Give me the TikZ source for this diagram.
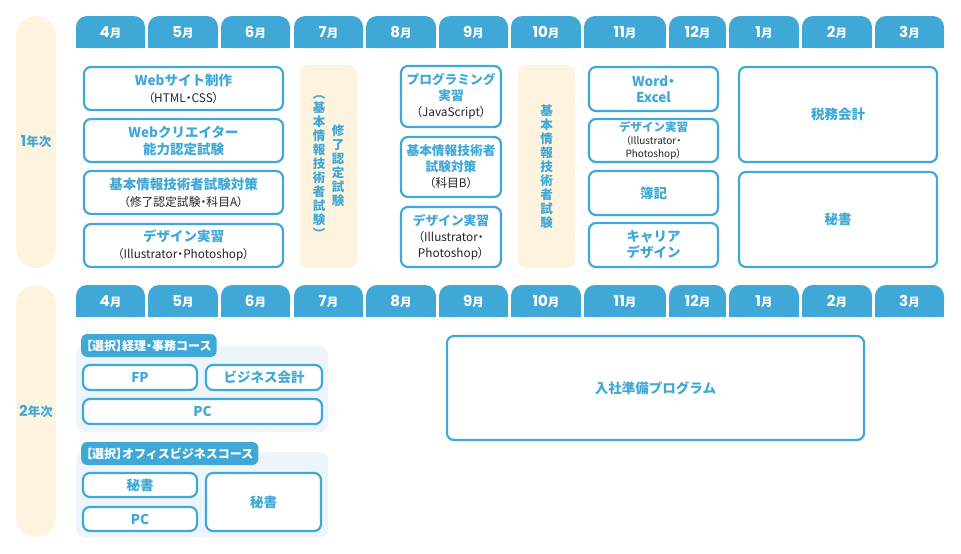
\documentclass[tikz,border=0pt]{standalone}
\usepackage{fontspec}
\setmainfont{Noto Sans CJK JP}
\newfontfamily\numfont{Poppins}
\usetikzlibrary{positioning}
\definecolor{tabblue}{RGB}{64,168,214}
\definecolor{cream}{RGB}{254,243,222}
\definecolor{paleblue}{RGB}{237,245,251}
\definecolor{ink}{RGB}{35,35,35}
\newcommand\hd[1]{{\color{tabblue}\bfseries #1}}
\newcommand\sm[1]{{\color{ink}\fontsize{11.8}{13}\selectfont\addfontfeatures{RawFeature=+palt}#1}}
\newcommand\pn[1]{{\addfontfeatures{RawFeature=+palt}#1}}

\begin{document}
\begin{tikzpicture}[x=1pt,y=-1pt,
  tabtxt/.style={text=white,font=\bfseries,inner sep=0pt},
  yearbar/.style={fill=cream,rounded corners=20pt,minimum width=40,minimum height=252,text=tabblue,font=\bfseries,inner sep=0pt},
  box/.style={draw=tabblue,line width=2.2pt,fill=white,rounded corners=7pt,align=center,inner sep=0pt,font={\fontsize{13.5}{17}\selectfont}},
  memo/.style={fill=cream,rounded corners=8pt,minimum width=57,minimum height=203,inner sep=0pt},
  tate/.style={align=center,inner sep=0pt,text=tabblue,font={\bfseries\fontsize{12.5}{14}\selectfont}},
  grp/.style={fill=paleblue,rounded corners=8pt,inner sep=0pt},
  tag/.style={fill=tabblue,rounded corners=6pt,text=white,font={\bfseries\fontsize{12}{13}\selectfont},minimum height=23,inner xsep=5pt,inner ysep=0pt}]
  \useasboundingbox[fill=white] (0,0) rectangle (961,554);

  \foreach \r/\ty in {1/16,2/285}
    \foreach \m/\a/\b in {4/76/145,5/148/218,6/221/290,7/294/363,8/366/436,9/439/508,10/511/581,11/584/666,12/669/726,1/729/799,2/802/872,3/875/944} {
      \fill[tabblue,rounded corners=11pt] (\a,\ty) rectangle (\b,\ty+32);
      \fill[tabblue] (\a,\ty+14) rectangle (\b,\ty+32);
      \node[tabtxt] (tab\r-\m) at ({(\a+\b)/2},\ty+16.5) {{\numfont\bfseries\fontsize{15}{15}\selectfont\m}{\fontsize{11.5}{12}\selectfont 月}};
    }

  \node[yearbar] (y1) at (36,142) {{\numfont\bfseries\fontsize{15}{15}\selectfont 1}{\fontsize{12.5}{13}\selectfont 年次}};
  \node[yearbar] (y2) at (36,411) {{\numfont\bfseries\fontsize{15}{15}\selectfont 2}{\fontsize{12.5}{13}\selectfont 年次}};

  \node[box,minimum width=199,minimum height=43] (web) at (183.5,88.5) {\hd{Webサイト制作}\\\sm{（HTML・CSS）}};
  \node[box,minimum width=199,minimum height=43] (wcr) at (183.5,140.5) {\hd{Webクリエイター}\\\hd{能力認定試験}};
  \node[box,minimum width=199,minimum height=43] (kihon) at (183.5,192.5) {\hd{基本情報技術者試験対策}\\\sm{（修了認定試験・科目A）}};
  \node[box,minimum width=199,minimum height=43] (des1) at (183.5,245.5) {\hd{デザイン実習}\\\sm{（Illustrator・Photoshop）}};

  \node[memo] (m7) at (328.5,166.5) {};
  \node[tate] (v7a) at (319,167) {︵\\基\\本\\情\\報\\技\\術\\者\\試\\験\\︶};
  \node[tate] (v7b) at (338,166) {修\\了\\認\\定\\試\\験};

  \node[box,minimum width=100,minimum height=61,font={\fontsize{12.7}{16}\selectfont}] (prog) at (451,96.5) {\hd{プログラミング}\\\hd{実習}\\\sm{（JavaScript）}};
  \node[box,minimum width=100,minimum height=60,font={\fontsize{12.7}{16}\selectfont}] (kihonb) at (451,167) {\hd{基本情報技術者}\\\hd{試験対策}\\\sm{（科目B）}};
  \node[box,minimum width=100,minimum height=60,font={\fontsize{12.7}{16}\selectfont}] (des2) at (451,237) {\hd{デザイン実習}\\\sm{（Illustrator・}\\\sm{Photoshop）}};

  \node[memo] (m10) at (546.5,166.5) {};
  \node[tate] (v10) at (546.5,167) {基\\本\\情\\報\\技\\術\\者\\試\\験};

  \node[box,minimum width=129,minimum height=44,font={\fontsize{13.5}{16}\selectfont\addfontfeatures{RawFeature=+palt}}] (word) at (653.5,89) {\hd{Word・}\\\hd{Excel}};
  \node[box,minimum width=129,minimum height=43,font={\fontsize{11.5}{13}\selectfont}] (des3) at (653.5,140.5) {\hd{デザイン実習}\\{\color{ink}\fontsize{10}{12}\selectfont\addfontfeatures{RawFeature=+palt}（Illustrator・}\\{\color{ink}\fontsize{10}{12}\selectfont\addfontfeatures{RawFeature=+palt}Photoshop）}};
  \node[box,minimum width=129,minimum height=44] (boki) at (653.5,193) {\hd{簿記}};
  \node[box,minimum width=129,minimum height=44,font={\fontsize{13.5}{16}\selectfont}] (career) at (653.5,245) {\hd{キャリア}\\\hd{デザイン}};

  \node[box,minimum width=198,minimum height=95] (zeimu) at (838,114.5) {\hd{税務会計}};
  \node[box,minimum width=198,minimum height=95] (hisho) at (838,219.5) {\hd{秘書}};

  \node[grp,minimum width=252,minimum height=86] (g1) at (202,389) {};
  \node[tag,anchor=west] (tag1) at (81,345.5) {\pn{【}選択\pn{】}経理\pn{・}事務コース};
  \node[box,minimum width=114,minimum height=25] (fp) at (140,377.5) {\hd{FP}};
  \node[box,minimum width=116,minimum height=25] (bizk) at (264,377.5) {\hd{ビジネス会計}};
  \node[box,minimum width=239,minimum height=25] (pc1) at (202.5,411.5) {\hd{PC}};

  \node[grp,minimum width=252,minimum height=85] (g2) at (202,494.5) {};
  \node[tag,anchor=west] (tag2) at (81,453.5) {\pn{【}選択\pn{】}オフィスビジネスコース};
  \node[box,minimum width=114,minimum height=24] (hisho2a) at (140,485) {\hd{秘書}};
  \node[box,minimum width=114,minimum height=24] (pc2) at (140,519) {\hd{PC}};
  \node[box,minimum width=115,minimum height=58] (hisho2b) at (263.5,502) {\hd{秘書}};

  \node[box,minimum width=417,minimum height=104] (nyusha) at (655.5,388) {\hd{入社準備プログラム}};
\end{tikzpicture}
\end{document}
